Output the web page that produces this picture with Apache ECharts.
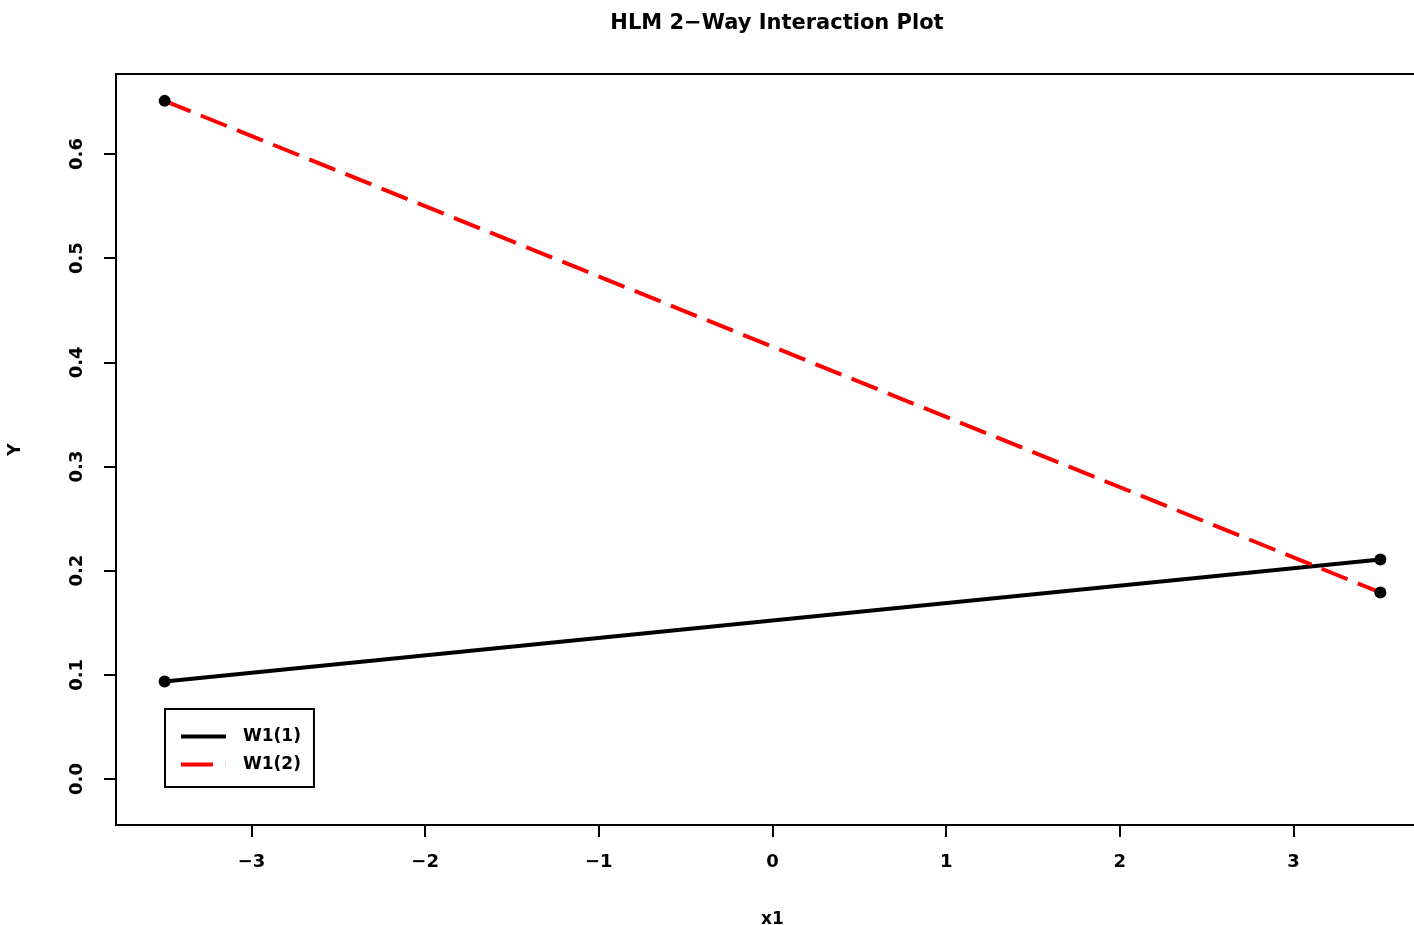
<!DOCTYPE html>
<html>
<head>
<meta charset="utf-8">
<title>HLM 2-Way Interaction Plot</title>
<script src="https://cdn.jsdelivr.net/npm/echarts@6/dist/echarts.min.js"></script>
<style>
  html, body { margin: 0; padding: 0; background: #fff; }
  #chart { width: 1414px; height: 925px; }
</style>
</head>
<body>
<div id="chart"></div>
<script>
// values
const xEnds = [-3.5, 3.5];
const w1Values = [0.0936, 0.2107];
const w2Values = [0.651, 0.179];
const seriesNames = ['W1(1)', 'W1(2)'];
const xTicks = [-3, -2, -1, 0, 1, 2, 3];
const yTicks = [0, 0.1, 0.2, 0.3, 0.4, 0.5, 0.6];

const font = 'DejaVu Sans, Liberation Sans, sans-serif';

const chart = echarts.init(document.getElementById('chart'), null, { renderer: 'canvas' });

const toPoints = (vals) => xEnds.map((x, i) => [x, vals[i]]);

const option = {
  animation: false,
  backgroundColor: '#fff',
  title: {
    text: 'HLM 2\u2212Way Interaction Plot',
    left: 772,
    top: 8,
    textAlign: 'center',
    textStyle: { fontFamily: font, fontSize: 21, fontWeight: 'bold', color: '#000' }
  },
  grid: {
    left: 116,
    right: -15,
    top: 74,
    bottom: 100,
    show: true,
    borderColor: '#000',
    borderWidth: 2,
    containLabel: false,
    outerBoundsMode: 'none'
  },
  xAxis: {
    type: 'value',
    min: -3.78,
    max: 3.78,
    name: 'x1',
    nameLocation: 'middle',
    nameGap: 86,
    nameTextStyle: { fontFamily: font, fontSize: 17, fontWeight: 'bold', color: '#000' },
    splitLine: { show: false },
    axisLine: { show: false, onZero: false },
    axisTick: { show: true, length: 12, lineStyle: { color: '#000', width: 2 }, customValues: xTicks },
    axisLabel: {
      fontFamily: font, fontSize: 18, fontWeight: 'bold', color: '#000', margin: 28,
      customValues: xTicks,
      formatter: (v) => (v < 0 ? '\u2212' + Math.abs(v) : String(v))
    }
  },
  yAxis: {
    type: 'value',
    min: -0.0442,
    max: 0.6768,
    name: 'Y',
    nameLocation: 'middle',
    nameGap: 92,
    nameRotate: 90,
    nameTextStyle: { fontFamily: font, fontSize: 17, fontWeight: 'bold', color: '#000' },
    splitLine: { show: false },
    axisLine: { show: false, onZero: false },
    axisTick: { show: true, length: 12, lineStyle: { color: '#000', width: 2 }, customValues: yTicks },
    axisLabel: {
      fontFamily: font, fontSize: 18, fontWeight: 'bold', color: '#000', margin: 30,
      rotate: 90,
      customValues: yTicks,
      formatter: (v) => v.toFixed(1)
    }
  },
  legend: {
    orient: 'vertical',
    left: 165,
    top: 709,
    padding: [19, 13, 14, 16],
    itemGap: 11,
    itemWidth: 45,
    itemHeight: 4,
    borderColor: '#000',
    borderWidth: 2,
    textStyle: { fontFamily: font, fontSize: 17, fontWeight: 'bold', color: '#000', padding: [0, 0, 0, 12] },
    data: [
      { name: seriesNames[0], icon: 'path://M0,0H45V4H0Z', itemStyle: { color: '#000' } },
      { name: seriesNames[1], icon: 'path://M0,0H32V4H0Z M44.8,0H45V4H44.8Z', itemStyle: { color: '#ff0000' } }
    ]
  },
  series: [
    {
      name: seriesNames[0],
      type: 'line',
      data: toPoints(w1Values),
      symbol: 'circle',
      symbolSize: 12,
      itemStyle: { color: '#000' },
      lineStyle: { color: '#000', width: 4 },
      z: 2
    },
    {
      name: seriesNames[1],
      type: 'line',
      data: toPoints(w2Values),
      symbol: 'circle',
      symbolSize: 12,
      itemStyle: { color: '#000' },
      lineStyle: { color: '#ff0000', width: 4, type: [28, 11] },
      z: 3
    }
  ]
};

chart.setOption(option);
window.addEventListener('resize', () => chart.resize());
</script>
</body>
</html>
